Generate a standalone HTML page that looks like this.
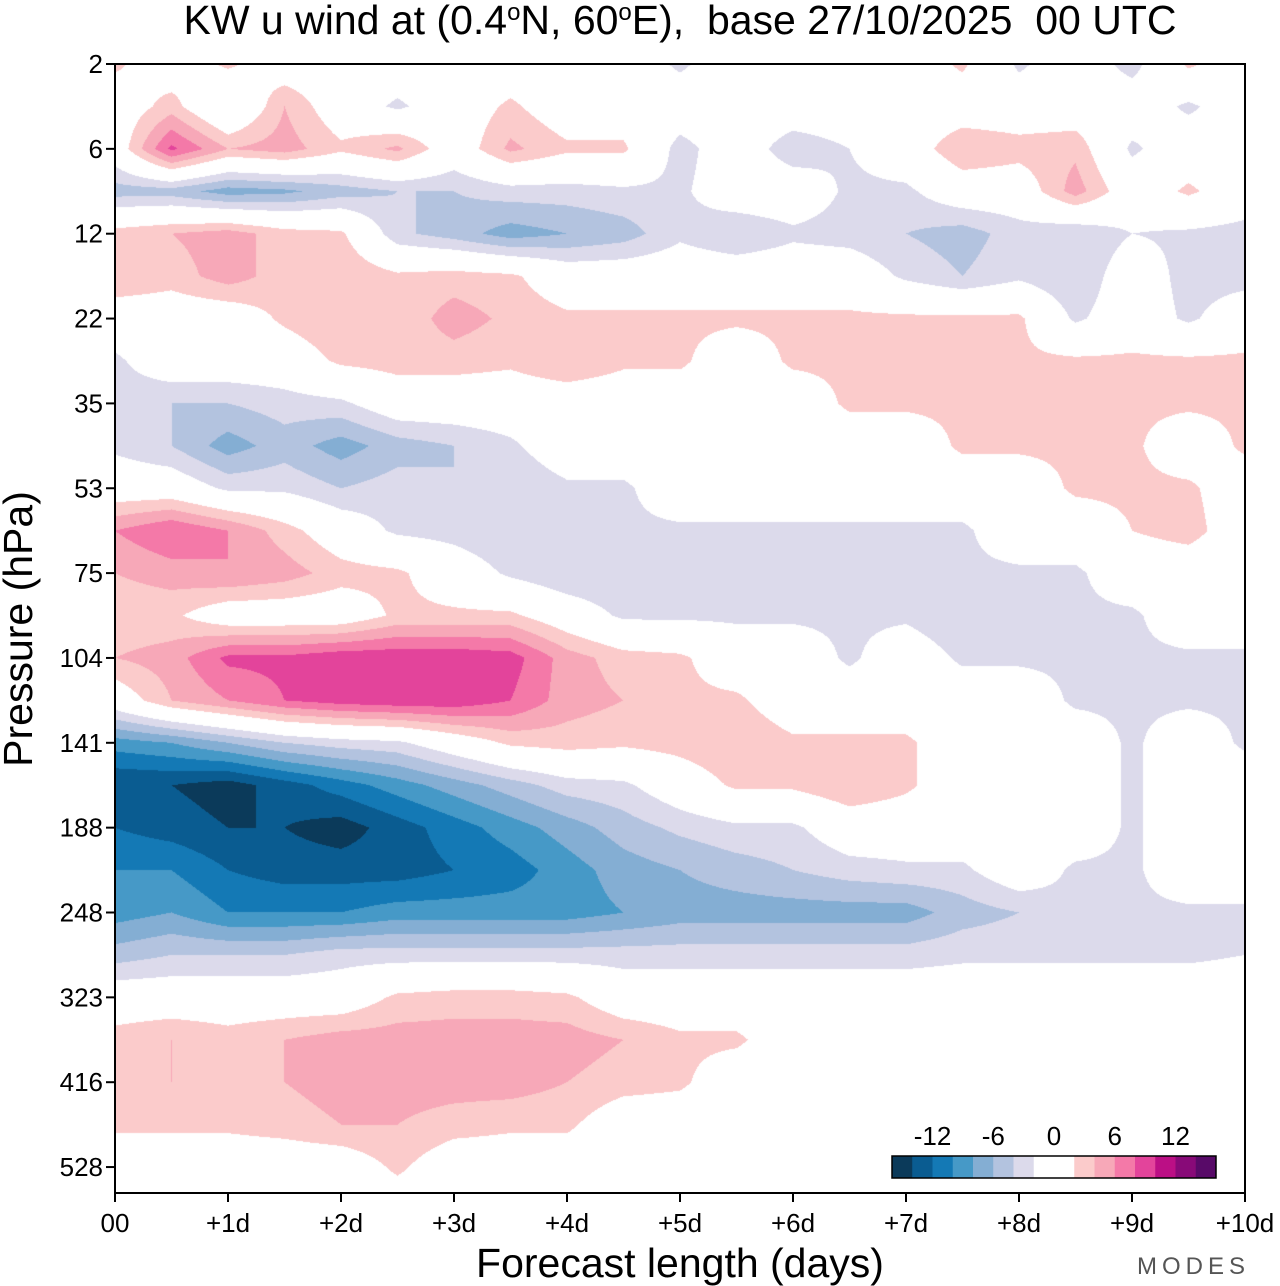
<!DOCTYPE html>
<html><head><meta charset="utf-8"><style>
body{margin:0;background:#fff;width:1280px;height:1286px;overflow:hidden;font-family:"Liberation Sans",sans-serif;}
#wrap{position:relative;width:1280px;height:1286px;}
canvas{position:absolute;left:115px;top:64px;}
svg{position:absolute;left:0;top:0;}
</style></head><body>
<div id="wrap">
<canvas id="cv" width="1130" height="1129"></canvas>
<svg id="sv" width="1280" height="1286"></svg>
</div>
<script>
const pressureLabels=["2","6","12","22","35","53","75","104","141","188","248","323","416","528"];
const dayLabels=["00","+1d","+2d","+3d","+4d","+5d","+6d","+7d","+8d","+9d","+10d"];
const legendLabels=["-12","-6","0","6","12"];
const legendLabelValues=[-12,-6,0,6,12];
const levelBounds=[-16,-14,-12,-10,-8,-6,-4,-2,2,4,6,8,10,12,14,16];
const levelColors=["#0b3a5a","#0a5c91","#1479b5","#4699c7","#84aed3","#b3c3df","#dcdaeb","#ffffff","#fbcbcb","#f7a8b8","#f479a8","#e3449b","#bb0f85","#880a78","#580a68"];
// rows: half-tick pressure steps (row 0 = 2 hPa), columns: 12-hour steps from 00 to +10d
const u=[
[2.5,0,2.5,0,0,0,0,0,0,0,-2.5,0,0,0,0,2.5,-2.5,0,-3,2.5,0],
[0,3,-2,4,0,-2.5,0,2.5,0,0,0,0,0,0,0,0,0,0,0,-2.5,0],
[0,8.5,4,5,2.5,4.5,0,4.5,2.5,2.5,-3,0,-3.5,-2,0,4,3,3.5,-2.5,0,-2],
[-5,-5,-7,-6.5,-5,-4,-4,-3,-3,-2.5,-2.5,0,0,-2.5,-2.5,0,0,5,0,2.5,0],
[3,4,5,3,2.5,-3.5,-5,-7,-6,-5,-2.5,-4,-2.5,-3,-4,-5,-3,-4,-2,-2.5,-3],
[4,3,5,3,4,2.5,3,2.5,0,0,0,0,0,0,-2.5,-4,-2.5,-4,0,-3,-3],
[0,0,0,2.5,4,2.5,5,3.5,2.5,2.5,2.5,2.5,2.5,2.5,2.5,2.5,2.5,-2.5,0,-2.5,0],
[-2.5,0,0,0,2.5,3,3,2.5,4,2.5,2.5,0,2.5,2.5,4,2.5,2.5,2.5,2.5,2.5,2.5],
[-3,-4,-4,-3,-2.5,0,0,0,0,0,0,0,0,2.5,2.5,2.5,3,2.5,2.5,2.5,2.5],
[-2.5,-4,-7,-5,-7,-5,-4,-2.5,0,0,0,0,0,0,0,2.5,2.5,2.5,2.5,0,2.5],
[0,0,-2.5,-2.5,-4,-3,-4,-4,-2.5,-2.5,0,0,0,0,0,0,0,2.5,2.5,2.5,0],
[6,8,6,3,0,-2.5,-3,-4,-2.5,-2.5,-2.5,-2.5,-2.5,-2.5,-2.5,-2.5,0,0,2,3,0],
[4,5,6,5,3,2.5,0,-2.5,-4,-4,-3,-4,-4,-2.5,-2.5,-2.5,-2.5,-2.5,0,0,0],
[2.5,2.5,0,0,0,2.5,2.5,2.5,0,-2.5,-2.5,-2.5,-2.5,-2.5,-2.5,-4,-4,-2.5,-2.5,0,0],
[4,5,8.5,8.5,9.5,9.5,9.5,9,5,3,2.5,0,0,-2.5,0,-2.5,-2.5,-2.5,-2.5,-2.5,-2.5],
[0,4,6,8,9,9.5,9.5,8,5,4,2.5,2.5,0,0,0,0,0,-2.5,-2.5,-2.5,-2.5],
[-9,-8,-6,-4,-3,-2.5,0,2.5,3,2.5,3,4,2.5,2.5,2.5,0,0,0,-2.5,0,-2.5],
[-14,-14,-15,-13,-11,-9,-7,-5,-3,-2.5,0,2.5,2.5,4,2.5,0,0,0,-2.5,0,0],
[-12,-13,-14,-14,-15,-13,-11,-9,-7,-5,-3.5,-2.5,-2.5,0,0,0,0,0,-2.5,0,0],
[-10,-10,-12,-13,-13,-13,-12,-11,-9,-7,-6,-5,-4,-3,-2.5,-2.5,0,-2.5,-2.5,0,0],
[-9,-8,-10,-10,-10,-9,-9,-9,-9,-8,-7,-7,-7,-7,-7,-5,-4,-2.5,-2.5,-2.5,-2.5],
[-5,-4,-4,-4,-3,-3,-3,-3,-3,-3,-3,-3,-3,-3,-3,-2.5,-2.5,-2.5,-2.5,-2.5,-2],
[0,0,0,0,0,2.5,3,3,2.5,0,0,0,0,0,0,0,0,0,0,0,0],
[3,4,3,4,5,5,5,5,5,4,2.5,2.5,0,0,0,0,0,0,0,0,0],
[3,4,2.5,4,5,5,5,5,4,3,2.5,0,0,0,0,0,0,0,0,0,0],
[2.5,2.5,2.5,3,4,4,3,2.5,2.5,0,0,0,0,0,0,0,0,0,0,0,0],
[0,0,0,0,0,2.5,0,0,0,0,0,0,0,0,0,0,0,0,0,0,0],
[0,0,0,0,0,0,0,0,0,0,0,0,0,0,0,0,0,0,0,0,0]
];
const X0=115,X1=1245,Y0=64,YB=1193,tickStep=84.85;
function xDay(d){return X0+d*(X1-X0)/10;}
function yIdx(i){return Y0+i*tickStep;}
function colorFor(v){for(let k=0;k<levelColors.length;k++){if(v<levelBounds[k+1])return levelColors[k];}return levelColors[levelColors.length-1];}
function hexRGB(h){return [parseInt(h.substr(1,2),16),parseInt(h.substr(3,2),16),parseInt(h.substr(5,2),16)];}
(function(){
const cv=document.getElementById('cv'),ctx=cv.getContext('2d');
const W=cv.width,H=cv.height,img=ctx.createImageData(W,H);
const nr=u.length,nc=u[0].length;
const cache={};
for(let py=0;py<H;py++){
 const r=Math.min((py+0.5)/(tickStep/2),nr-1.0001);const r0=Math.floor(r),fr=r-r0;
 for(let px=0;px<W;px++){
  const c=Math.min((px+0.5)/((X1-X0)/(nc-1)),nc-1.0001);const c0=Math.floor(c),fc=c-c0;
  const v=(u[r0][c0]*(1-fc)+u[r0][c0+1]*fc)*(1-fr)+(u[r0+1][c0]*(1-fc)+u[r0+1][c0+1]*fc)*fr;
  const col=colorFor(v);const rgb=cache[col]||(cache[col]=hexRGB(col));
  const o=(py*W+px)*4;img.data[o]=rgb[0];img.data[o+1]=rgb[1];img.data[o+2]=rgb[2];img.data[o+3]=255;
 }
}
ctx.putImageData(img,0,0);
})();
const NS="http://www.w3.org/2000/svg",sv=document.getElementById('sv');
function mk(tag,attrs,txt){const e=document.createElementNS(NS,tag);for(const k in attrs)e.setAttribute(k,attrs[k]);if(txt!==undefined)e.textContent=txt;sv.appendChild(e);return e;}
let e;
e=mk('rect',{x:X0,y:Y0,width:X1-X0,height:YB-Y0,fill:'none',stroke:'#000','stroke-width':2});


pressureLabels.forEach((t,i)=>{const y=yIdx(i);
 e=mk('line',{x1:X0-9,x2:X0,y1:y,y2:y,stroke:'#000','stroke-width':2});
 
 
 e=mk('text',{x:X0-12,y:y+9,'text-anchor':'end','font-size':26,fill:'#000'},t);
 
 
});
dayLabels.forEach((t,i)=>{const x=xDay(i);
 e=mk('line',{x1:x,x2:x,y1:YB,y2:YB+9,stroke:'#000','stroke-width':2});
 
 
 e=mk('text',{x:x,y:YB+39,'text-anchor':'middle','font-size':26,fill:'#000'},t);
 
 
});
e=mk('text',{x:680,y:34,'text-anchor':'middle','font-size':41,fill:'#000'});


e.innerHTML='KW u wind at (0.4<tspan dy="-14" font-size="24">o</tspan><tspan dy="14">N, 60</tspan><tspan dy="-14" font-size="24">o</tspan><tspan dy="14">E),&#160; base 27/10/2025&#160; 00 UTC</tspan>';
e=mk('text',{x:0,y:0,'text-anchor':'middle','font-size':41,fill:'#000',transform:'translate(32,629) rotate(-90)'},'Pressure (hPa)');


e=mk('text',{x:680,y:1277,'text-anchor':'middle','font-size':41,fill:'#000'},'Forecast length (days)');


e=mk('text',{x:1250,y:1274,'text-anchor':'end','font-size':24,fill:'#555','letter-spacing':'5'},'MODES');


const LB0=892,LB1=1216,LY=1156,LH=22,uw=(LB1-LB0)/(levelBounds[levelBounds.length-1]-levelBounds[0]);
function xLeg(v){return LB0+(v-levelBounds[0])*uw;}
levelColors.forEach((c,k)=>{
 e=mk('rect',{x:xLeg(levelBounds[k]),y:LY,width:xLeg(levelBounds[k+1])-xLeg(levelBounds[k])+0.5,height:LH,fill:c});
 
 
});
e=mk('rect',{x:LB0,y:LY,width:LB1-LB0,height:LH,fill:'none',stroke:'#000','stroke-width':1.5});


legendLabels.forEach((t,i)=>{
 e=mk('text',{x:xLeg(legendLabelValues[i]),y:1145,'text-anchor':'middle','font-size':26,fill:'#000'},t);
 
 
});
</script>
</body></html>
